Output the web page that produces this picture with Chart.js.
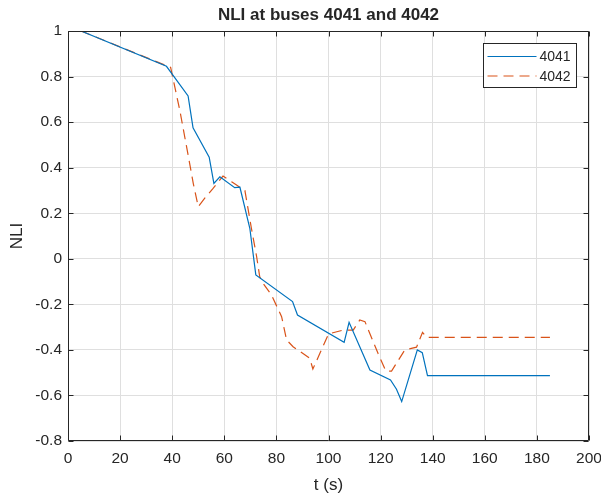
<!DOCTYPE html>
<html>
<head>
<meta charset="utf-8">
<script src="https://cdn.jsdelivr.net/npm/chart.js@4/dist/chart.umd.min.js"></script>
<style>
  html, body { margin: 0; padding: 0; background: #fff; }
  #wrap { width: 601px; height: 496px; }
</style>
</head>
<body>
<div id="wrap"><canvas id="nliChart" width="601" height="496"></canvas></div>
<script>
// bus 4041
const t4041 = [5, 37.8, 46.1, 48, 54.2, 56, 58.3, 64, 66, 69.8, 72.1, 86.2, 88.1, 106, 107.9, 115.9, 123.8, 126.1, 128.1, 134.1, 136, 138, 185];
const nli4041 = [1.0, 0.845, 0.715, 0.575, 0.446, 0.331, 0.36, 0.312, 0.314, 0.134, -0.071, -0.188, -0.247, -0.367, -0.279, -0.488, -0.532, -0.573, -0.627, -0.40, -0.412, -0.513, -0.513];

// bus 4042
const t4042 = [5, 39.4, 42.9, 46.1, 48.1, 50, 52.5, 55.7, 59.5, 62.8, 64.7, 66, 67.9, 70.4, 72.4, 73.6, 74.9, 78.1, 82, 83.9, 86.4, 92.8, 94, 96.7, 100, 105.6, 109.5, 112, 114, 119, 122, 124.2, 129.3, 133.8, 136.1, 137.7, 185];
const nli4042 = [1.0, 0.84, 0.653, 0.456, 0.33, 0.229, 0.266, 0.309, 0.363, 0.338, 0.324, 0.314, 0.3, 0.134, 0.01, -0.079, -0.108, -0.159, -0.254, -0.356, -0.386, -0.437, -0.484, -0.415, -0.33, -0.313, -0.313, -0.269, -0.276, -0.415, -0.493, -0.493, -0.40, -0.388, -0.323, -0.345, -0.345];

const seriesLabels = ["4041", "4042"];
const chartTitle = "NLI at buses 4041 and 4042";
const xLabel = "t (s)";
const yLabel = "NLI";

const toPoints = (xs, ys) => xs.map((x, i) => ({ x: x, y: ys[i] }));

const FONT = "'Liberation Sans', Arial, Helvetica, sans-serif";
const INK = "#262626";

// axes box + inward ticks on all four sides (matlab look)
const boxPlugin = {
  id: "box",
  afterDatasetsDraw(chart) {
    const { ctx, chartArea: a, scales } = chart;
    const L = Math.round(a.left) + 0.5, R = Math.round(a.right) - 0.5;
    const T = Math.round(a.top) + 0.5, B = Math.round(a.bottom) - 0.5;
    ctx.save();
    ctx.strokeStyle = INK;
    ctx.lineWidth = 1;
    ctx.beginPath();
    ctx.rect(L, T, R - L, B - T);
    scales.x.ticks.forEach((tk) => {
      const px = Math.round(scales.x.getPixelForValue(tk.value)) + 0.5;
      ctx.moveTo(px, B); ctx.lineTo(px, B - 5);
      ctx.moveTo(px, T); ctx.lineTo(px, T + 5);
    });
    scales.y.ticks.forEach((tk) => {
      const py = Math.round(scales.y.getPixelForValue(tk.value)) + 0.5;
      ctx.moveTo(L, py); ctx.lineTo(L + 5, py);
      ctx.moveTo(R, py); ctx.lineTo(R - 5, py);
    });
    ctx.stroke();
    ctx.restore();
  },
};

// legend box in the top right corner of the axes
const legendBox = {
  id: "legendBox",
  afterDraw(chart) {
    const { ctx, chartArea: a } = chart;
    const w = 93, h = 44;
    const x0 = Math.round(a.right - 13 - w) + 0.5;
    const y0 = Math.round(a.top + 12) + 0.5;
    ctx.save();
    ctx.fillStyle = "#fff";
    ctx.fillRect(x0, y0, w, h);
    ctx.strokeStyle = INK;
    ctx.lineWidth = 1;
    ctx.strokeRect(x0, y0, w, h);
    ctx.font = "14px " + FONT;
    ctx.textBaseline = "middle";
    ctx.textAlign = "left";
    chart.data.datasets.forEach((ds, i) => {
      const yy = y0 + 13 + i * 19.5;
      ctx.strokeStyle = ds.borderColor;
      ctx.lineWidth = ds.borderWidth;
      ctx.setLineDash(ds.borderDash || []);
      ctx.beginPath();
      ctx.moveTo(x0 + 4, yy);
      ctx.lineTo(x0 + 53, yy);
      ctx.stroke();
      ctx.setLineDash([]);
      ctx.fillStyle = INK;
      ctx.fillText(ds.label, x0 + 56, yy + 1);
    });
    ctx.restore();
  },
};

new Chart(document.getElementById("nliChart"), {
  type: "line",
  data: {
    datasets: [
      {
        label: seriesLabels[0],
        data: toPoints(t4041, nli4041),
        borderColor: "#0072BD",
        borderWidth: 1.2,
        pointRadius: 0,
        tension: 0,
        fill: false,
      },
      {
        label: seriesLabels[1],
        data: toPoints(t4042, nli4042),
        borderColor: "#D95319",
        borderWidth: 1.2,
        borderDash: [10, 6],
        pointRadius: 0,
        tension: 0,
        fill: false,
      },
    ],
  },
  options: {
    responsive: false,
    animation: false,
    events: [],
    layout: { padding: { left: 0, right: 12, top: 0, bottom: 0 } },
    plugins: {
      legend: { display: false },
      tooltip: { enabled: false },
      title: {
        display: true,
        text: chartTitle,
        fullSize: false,
        color: INK,
        font: { family: FONT, size: 17, weight: "bold", lineHeight: 1.2 },
        padding: { top: 5, bottom: 5.6 },
      },
    },
    scales: {
      x: {
        type: "linear",
        min: 0,
        max: 200,
        ticks: { stepSize: 20, color: INK, padding: 8, font: { family: FONT, size: 15.5 }, maxRotation: 0 },
        grid: { color: "#dfdfdf", drawTicks: false },
        border: { display: false },
        title: { display: true, text: xLabel, color: INK, font: { family: FONT, size: 17 }, padding: { top: 4, bottom: 0 } },
        afterFit(scale) {
          scale.height = 55;
          scale.paddingLeft = 0;
          scale.paddingRight = 0;
        },
      },
      y: {
        type: "linear",
        min: -0.8,
        max: 1,
        ticks: {
          stepSize: 0.2,
          color: INK,
          padding: 6,
          font: { family: FONT, size: 15.5 },
          callback: (v) => String(Number(v.toFixed(1))),
        },
        grid: { color: "#dfdfdf", drawTicks: false },
        border: { display: false },
        title: { display: true, text: yLabel, color: INK, font: { family: FONT, size: 17 }, padding: { top: 7, bottom: 0 } },
        afterFit(scale) { scale.width = 68; },
      },
    },
  },
  plugins: [boxPlugin, legendBox],
});
</script>
</body>
</html>
